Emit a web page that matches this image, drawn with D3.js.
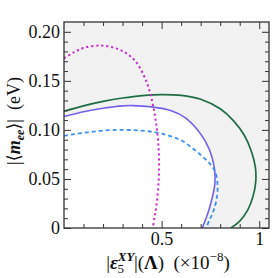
<!DOCTYPE html>
<html lang="en">
<head>
  <meta charset="UTF-8">
  <title>m_ee vs eps5</title>
  <style>
    body { margin: 0; background: #fff; }
    svg text { font-family: "Liberation Serif", "DejaVu Serif", serif; fill: #111; }
  </style>
</head>
<body>
  <div id="chart"></div>
</body>
<script src="https://cdn.jsdelivr.net/npm/d3@7/dist/d3.min.js"></script>
<script>
  // axis ticks
  var xMajor = [0.5, 1]
  var xMajorLabels = ['0.5', '1']
  var xMinor = [0.1, 0.2, 0.3, 0.4, 0.6, 0.7, 0.8, 0.9]
  var yMajor = [0, 0.05, 0.10, 0.15, 0.20]
  var yMajorLabels = ['0', '0.05', '0.10', '0.15', '0.20']
  var yMinor = d3.range(1, 21).map(i => i / 100).filter(v => Math.round(v * 100) % 5 != 0)

  // curves, [|eps5| (x1e-8), |<m_ee>| (eV)]
  var greenSolid = [[0,0.119],[0.1,0.1245],[0.2,0.129],[0.3,0.1325],[0.4,0.135],[0.5,0.136],[0.6,0.1352],
    [0.7,0.1312],[0.8,0.1215],[0.87,0.109],[0.925,0.094],[0.96,0.078],[0.98,0.062],[0.982,0.047],
    [0.968,0.032],[0.94,0.018],[0.9,0.007],[0.855,0]]
  var purpleSolid = [[0,0.1136],[0.1,0.1185],[0.2,0.122],[0.3,0.1245],[0.35,0.1248],[0.45,0.1235],
    [0.55,0.1195],[0.62,0.1125],[0.68,0.101],[0.725,0.088],[0.757,0.073],[0.772,0.058],[0.772,0.044],
    [0.757,0.029],[0.735,0.014],[0.708,0]]
  var blueDashed = [[0,0.094],[0.1,0.097],[0.2,0.0993],[0.3,0.1],[0.4,0.0992],[0.475,0.0973],[0.54,0.094],
    [0.6,0.0895],[0.66,0.081],[0.7,0.0745],[0.745,0.066],[0.775,0.057],[0.787,0.042],[0.78,0.028],
    [0.765,0.017],[0.745,0.008],[0.727,0]]
  var magentaDotted = [[0,0.173],[0.05,0.179],[0.1,0.1835],[0.19,0.186],[0.26,0.1835],[0.32,0.178],
    [0.37,0.169],[0.41,0.155],[0.435,0.142],[0.457,0.124],[0.473,0.105],[0.483,0.086],[0.487,0.065],
    [0.484,0.045],[0.475,0.0255],[0.465,0.012],[0.454,0]]

  var width = 272
  var height = 278
  var pl = 64, pr = 269, pt = 22, pb = 228

  var x = d3.scaleLinear().domain([0, 1.05]).range([pl, pr])
  var y = d3.scaleLinear().domain([0, 0.21]).range([pb, pt])

  var svg = d3.select('#chart').append('svg')
    .attr('width', width)
    .attr('height', height)

  svg.append('clipPath').attr('id', 'clip')
    .append('rect')
    .attr('x', pl).attr('y', pt)
    .attr('width', pr - pl).attr('height', pb - pt)

  // grey background, white inside the purple curve
  svg.append('rect')
    .attr('x', pl).attr('y', pt)
    .attr('width', pr - pl).attr('height', pb - pt)
    .attr('fill', '#f2f2f2')

  var line = d3.line()
    .x(d => x(d[0]))
    .y(d => y(d[1]))
    .curve(d3.curveCatmullRom.alpha(0.5))

  var plot = svg.append('g').attr('clip-path', 'url(#clip)')

  plot.append('path')
    .attr('d', line(purpleSolid) + 'L' + x(0) + ',' + y(0) + 'Z')
    .attr('fill', '#fff')

  plot.append('path').attr('d', line(greenSolid))
    .attr('fill', 'none').attr('stroke', '#1d6e42').attr('stroke-width', 1.7)
  plot.append('path').attr('d', line(purpleSolid))
    .attr('fill', 'none').attr('stroke', '#7462ee').attr('stroke-width', 1.6)
  plot.append('path').attr('d', line(blueDashed))
    .attr('fill', 'none').attr('stroke', '#3a90f5').attr('stroke-width', 1.8)
    .attr('stroke-dasharray', '4,3')
  plot.append('path').attr('d', line(magentaDotted))
    .attr('fill', 'none').attr('stroke', '#cc2ccc').attr('stroke-width', 2)
    .attr('stroke-dasharray', '2.2,2.8')

  // ticks on all four sides, pointing inward
  function ticks(axis, vals, size, labels, pad) {
    return axis.tickValues(vals).tickSize(-size).tickPadding(pad || 4)
      .tickFormat(labels ? (d, i) => labels[i] : '')
  }
  var frameColor = '#333'

  svg.append('g').attr('transform', `translate(0,${pb})`)
    .call(ticks(d3.axisBottom(x), xMajor, 7, xMajorLabels, 4))
  svg.append('g').attr('transform', `translate(0,${pb})`)
    .call(ticks(d3.axisBottom(x), xMinor, 4))
  svg.append('g').attr('transform', `translate(0,${pt})`)
    .call(ticks(d3.axisTop(x), xMajor, 7))
  svg.append('g').attr('transform', `translate(0,${pt})`)
    .call(ticks(d3.axisTop(x), xMinor, 4))

  svg.append('g').attr('transform', `translate(${pl},0)`)
    .call(ticks(d3.axisLeft(y), yMajor, 7, yMajorLabels, 4))
  svg.append('g').attr('transform', `translate(${pl},0)`)
    .call(ticks(d3.axisLeft(y), yMinor, 4))
  svg.append('g').attr('transform', `translate(${pr},0)`)
    .call(ticks(d3.axisRight(y), yMajor, 7))
  svg.append('g').attr('transform', `translate(${pr},0)`)
    .call(ticks(d3.axisRight(y), yMinor, 4))

  svg.selectAll('.domain').remove()
  svg.selectAll('.tick line').attr('stroke', frameColor).attr('stroke-width', 1)
  svg.selectAll('.tick text')
    .style('font-family', '"Liberation Serif", serif')
    .style('font-size', '18px')
    .attr('fill', '#111')

  svg.append('rect')
    .attr('x', pl).attr('y', pt)
    .attr('width', pr - pl).attr('height', pb - pt)
    .attr('fill', 'none').attr('stroke', frameColor).attr('stroke-width', 1.3)

  // x label: |eps_5^XY|(Lambda) (x10^-8)
  var xl = svg.append('text')
    .attr('x', 168).attr('y', 269)
    .attr('text-anchor', 'middle')
    .style('font-size', '19px')
  xl.append('tspan').text('|')
  xl.append('tspan').text('ε').style('font-weight', 'bold').style('font-style', 'italic')
  xl.append('tspan').text('XY').attr('dy', -8).style('font-size', '13px')
    .style('font-weight', 'bold').style('font-style', 'italic')
  xl.append('tspan').text('5').attr('dx', -17).attr('dy', 12).style('font-size', '13px')
  xl.append('tspan').text('|(').attr('dx', 10).attr('dy', -4)
  xl.append('tspan').text('Λ').style('font-weight', 'bold')
  xl.append('tspan').text(')\u2002(×10')
  xl.append('tspan').text('−8').attr('dy', -8).style('font-size', '13px')
  xl.append('tspan').text(')').attr('dy', 8)

  // y label: |<m_ee>| (eV)
  var yl = svg.append('text')
    .attr('transform', 'translate(20,121) rotate(-90)')
    .attr('text-anchor', 'middle')
    .style('font-size', '18px')
  yl.append('tspan').text('|⟨')
  yl.append('tspan').text('m').style('font-weight', 'bold').style('font-style', 'italic')
  yl.append('tspan').text('ee').attr('dy', 4).style('font-size', '12px')
    .style('font-weight', 'bold').style('font-style', 'italic')
  yl.append('tspan').text('⟩|').attr('dy', -4)
  yl.append('tspan').text('\u2002(eV)')
</script>
</html>
